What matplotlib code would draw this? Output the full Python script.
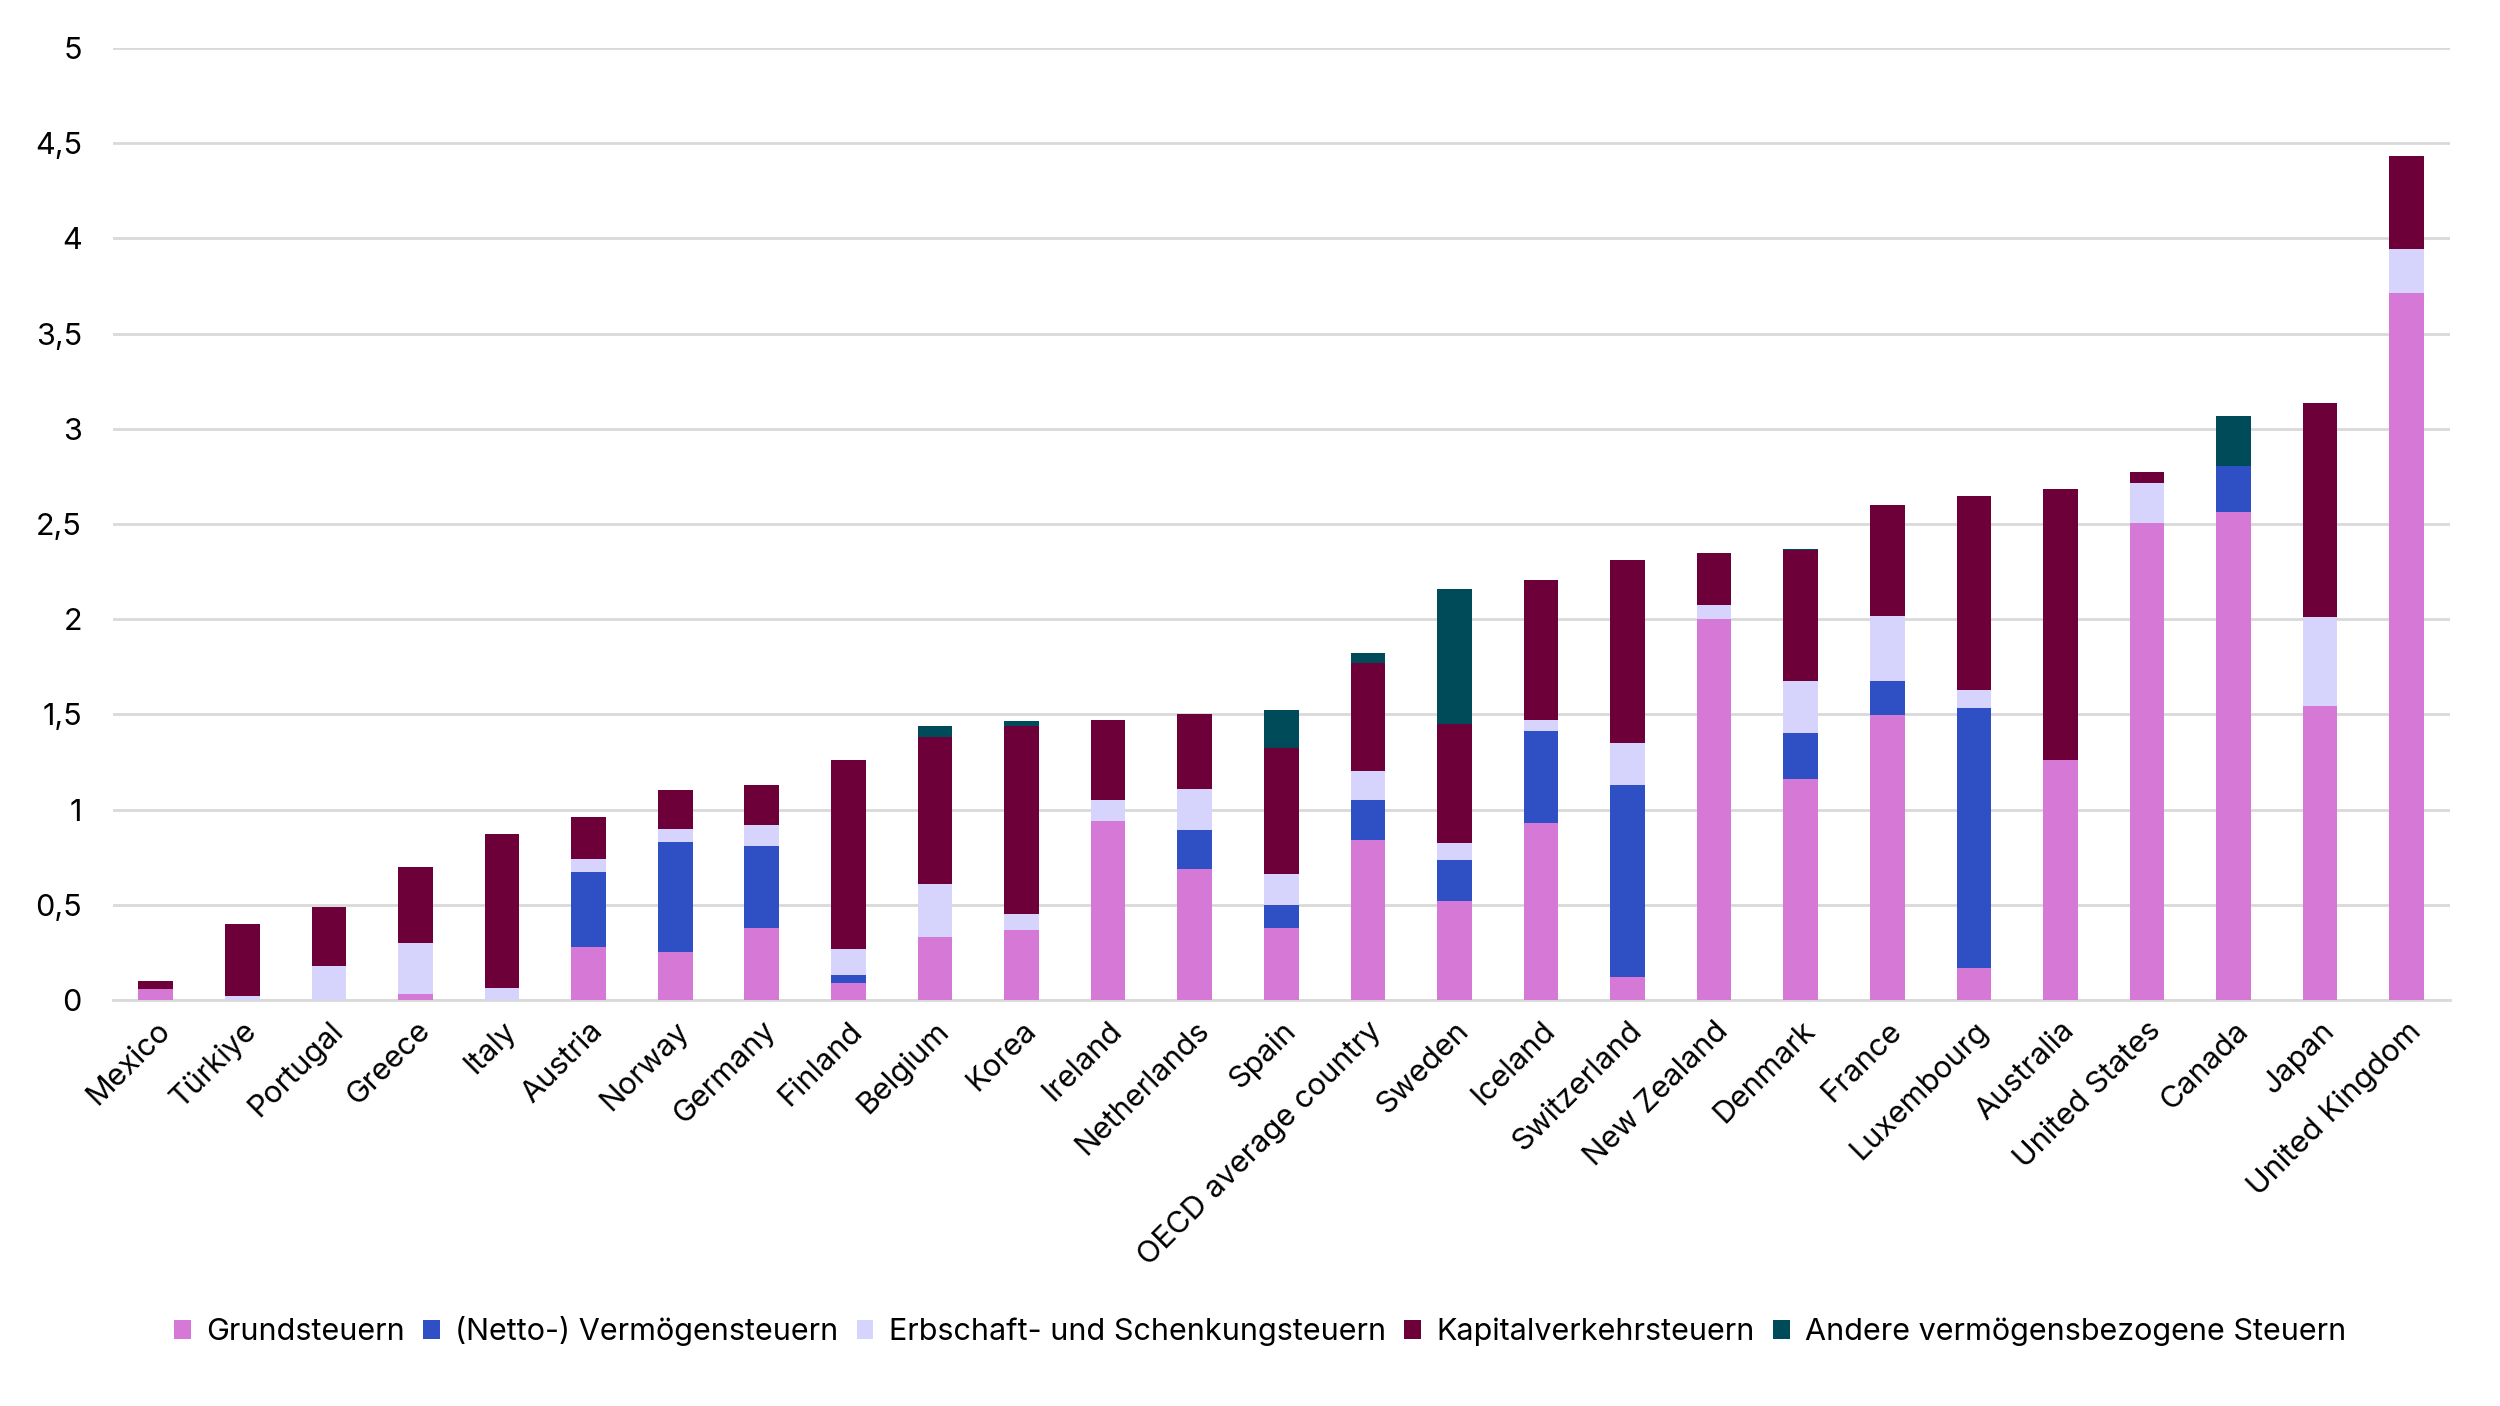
import numpy as np
import matplotlib
matplotlib.use("Agg")
import matplotlib.pyplot as plt
from matplotlib.ticker import FuncFormatter

plt.rcParams['font.family'] = ['Inter', 'DejaVu Sans']

countries = ["Mexico", "Türkiye", "Portugal", "Greece", "Italy", "Austria", "Norway",
             "Germany", "Finland", "Belgium", "Korea", "Ireland", "Netherlands", "Spain",
             "OECD average country", "Sweden", "Iceland", "Switzerland", "New Zealand",
             "Denmark", "France", "Luxembourg", "Australia", "United States", "Canada",
             "Japan", "United Kingdom"]

# cumulative tops, converted to segment heights below
grund = [0.056, 0.0, 0.0, 0.030, 0.0, 0.278, 0.252, 0.379, 0.088, 0.331, 0.366, 0.940, 0.687, 0.377,
         0.838, 0.518, 0.927, 0.119, 2.000, 1.159, 1.498, 0.166, 1.260, 2.507, 2.561, 1.546, 3.711]
top_verm = [0.056, 0.0, 0.0, 0.030, 0.0, 0.673, 0.829, 0.808, 0.132, 0.331, 0.366, 0.940, 0.893, 0.498,
            1.049, 0.737, 1.412, 1.127, 2.000, 1.401, 1.677, 1.535, 1.260, 2.507, 2.803, 1.546, 3.711]
top_erb = [0.056, 0.019, 0.178, 0.298, 0.065, 0.739, 0.898, 0.917, 0.268, 0.607, 0.451, 1.049, 1.109, 0.660,
           1.202, 0.825, 1.468, 1.348, 2.077, 1.677, 2.019, 1.630, 1.260, 2.717, 2.803, 2.009, 3.944]
top_kap = [0.099, 0.398, 0.488, 0.699, 0.871, 0.961, 1.104, 1.130, 1.261, 1.382, 1.440, 1.472, 1.502, 1.322,
           1.771, 1.447, 2.207, 2.309, 2.349, 2.363, 2.600, 2.649, 2.682, 2.774, 2.803, 3.138, 4.432]
top_andere = [0.099, 0.398, 0.488, 0.699, 0.871, 0.961, 1.104, 1.130, 1.261, 1.440, 1.463, 1.472, 1.502, 1.523,
              1.824, 2.160, 2.207, 2.309, 2.349, 2.370, 2.600, 2.649, 2.682, 2.774, 3.069, 3.138, 4.432]

labels = ["Grundsteuern", "(Netto-) Vermögensteuern", "Erbschaft- und Schenkungsteuern",
          "Kapitalverkehrsteuern", "Andere vermögensbezogene Steuern"]
colors = ["#D678D6", "#2E50C4", "#D6D4FC", "#6E0039", "#004B5A"]

tops = np.array([grund, top_verm, top_erb, top_kap, top_andere])
bottoms = np.vstack([np.zeros(len(countries)), tops[:-1]])
heights = tops - bottoms

fig = plt.figure(figsize=(25, 14.06), dpi=100)
ax = fig.add_axes([0.045, 0.2888, 0.935, 0.677])

x = np.arange(len(countries))
for i in range(5):
    ax.bar(x, heights[i], bottom=bottoms[i], width=0.4, color=colors[i], label=labels[i], zorder=3)

ax.set_xlim(-0.5, len(countries) - 0.5)
ax.set_ylim(0, 5)
ax.set_yticks(np.arange(0, 5.01, 0.5))
ax.yaxis.set_major_formatter(FuncFormatter(lambda v, p: ("%g" % v).replace(".", ",")))
ax.grid(axis="y", color="#d9d9d9", linewidth=2, zorder=0)
for s in ["top", "right", "left"]:
    ax.spines[s].set_visible(False)
ax.spines["bottom"].set_color("#d9d9d9")
ax.spines["bottom"].set_linewidth(2)
ax.tick_params(axis="both", length=0, labelsize=22)
ax.tick_params(axis="y", pad=22)
ax.set_xticks(x)
ax.set_xticklabels(countries, rotation=45, ha="right", va="top", rotation_mode="anchor")
ax.tick_params(axis="x", pad=12)

fig.legend(loc="center", bbox_to_anchor=(0.504, 0.053), ncol=5, frameon=False, fontsize=22,
           handlelength=0.55, handleheight=0.55, handletextpad=0.5, columnspacing=0.6)

fig.savefig("out.png", dpi=100)
